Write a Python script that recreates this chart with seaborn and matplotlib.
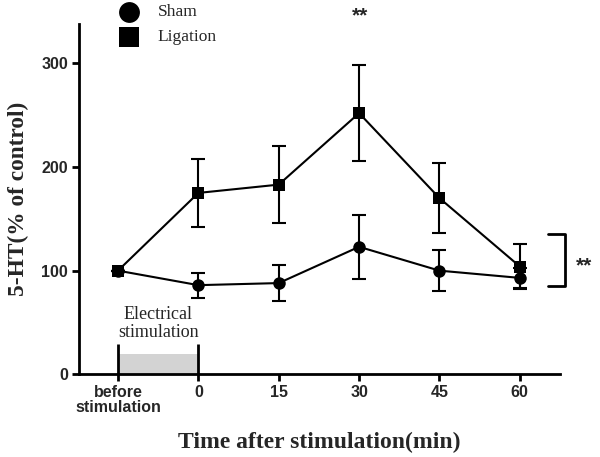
import matplotlib
matplotlib.use("Agg")
import matplotlib.pyplot as plt
from matplotlib.lines import Line2D
import seaborn as sns
import pandas as pd
import numpy as np

categories = ["before\nstimulation", "0", "15", "30", "45", "60"]
sham_mean = [100, 86, 88, 123, 100, 93]
sham_err = [0, 12, 17, 31, 20, 10]
lig_mean = [100, 175, 183, 252, 170, 104]
lig_err = [0, 33, 37, 46, 34, 22]
yticks = [0, 100, 200, 300]

sns.set_theme(style="ticks")
plt.rcParams["font.family"] = ["Liberation Sans", "DejaVu Sans"]

pos = np.arange(len(categories))
df = pd.DataFrame({
    "pos": np.concatenate([pos, pos]),
    "value": sham_mean + lig_mean,
    "group": ["Sham"] * len(pos) + ["Ligation"] * len(pos),
})

fig = plt.figure(figsize=(6, 4.57), dpi=100)
ax = fig.add_axes([0.1317, 0.181, 0.8016, 0.7665])

# stimulation box
ax.fill_between([pos[0], pos[1]], 0, 20, color="#d3d3d3", lw=0, zorder=1)
ax.vlines([pos[0], pos[1]], 0, 29, color="black", lw=2, zorder=2)
ax.text((pos[0] + pos[1]) / 2, 32, "Electrical\nstimulation", ha="center", va="bottom",
        family="Liberation Serif", fontsize=13, linespacing=1.1)

ax.errorbar(pos, sham_mean, yerr=sham_err, fmt="none", ecolor="black", elinewidth=1.5,
            capsize=5, capthick=1.5, zorder=3)
ax.errorbar(pos, lig_mean, yerr=lig_err, fmt="none", ecolor="black", elinewidth=1.5,
            capsize=5, capthick=1.5, zorder=3)

sns.lineplot(data=df, x="pos", y="value", hue="group", style="group",
             markers={"Sham": "o", "Ligation": "s"}, dashes=False,
             palette={"Sham": "black", "Ligation": "black"},
             markersize=9, markeredgewidth=0, linewidth=1.5, ax=ax, legend=False, zorder=4)

ax.set_xlim(-0.485, 5.5)
ax.set_ylim(0, 338)
ax.set_xticks(pos)
ax.set_xticklabels(categories, fontweight="bold", fontsize=11.5, linespacing=1.0)
ax.set_yticks(yticks)
ax.set_yticklabels([str(v) for v in yticks], fontweight="bold", fontsize=11.5)
ax.tick_params(axis="both", width=2, length=5, color="black", pad=3)
for s in ["top", "right"]:
    ax.spines[s].set_visible(False)
for s in ["left", "bottom"]:
    ax.spines[s].set_linewidth(2)
    ax.spines[s].set_color("black")

ax.set_xlabel("Time after stimulation(min)", family="Liberation Serif", fontweight="bold",
              fontsize=17, labelpad=12)
ax.set_ylabel("5-HT(% of control)", family="Liberation Serif", fontweight="bold",
              fontsize=16.8, labelpad=9)

# legend (markers drawn as figure-level lines)
fig.add_artist(Line2D([0.215], [0.973], marker="o", color="black", markersize=15,
                      markeredgewidth=0, transform=fig.transFigure))
fig.add_artist(Line2D([0.215], [0.918], marker="s", color="black", markersize=14,
                      markeredgewidth=0, transform=fig.transFigure))
fig.text(0.263, 0.973, "Sham", ha="left", va="center", fontsize=12.5, family="Liberation Serif")
fig.text(0.263, 0.918, "Ligation", ha="left", va="center", fontsize=12.5, family="Liberation Serif")

# significance
fig.text(0.600, 0.965, "**", ha="center", va="center", fontsize=15, fontweight="bold")
ax.plot([5.35, 5.56, 5.56, 5.35], [135, 135, 85, 85], color="black", lw=2, clip_on=False)
ax.text(5.8, 105, "**", ha="center", va="center", fontsize=15, fontweight="bold")

fig.savefig("out.png", dpi=100)
